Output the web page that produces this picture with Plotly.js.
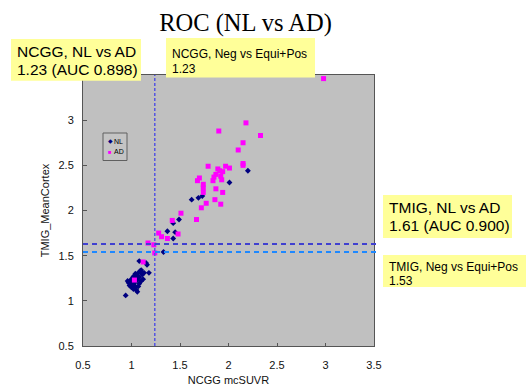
<!DOCTYPE html>
<html><head><meta charset="utf-8">
<script src="https://cdn.plot.ly/plotly-3.0.1.min.js"></script>
<style>html,body{margin:0;padding:0;background:#fff}#chart{width:526px;height:389px}</style>
</head><body><div id="chart"></div>
<script>
// ---- data ----
const nlX = [2.20,2.01,1.62,1.69,1.73,1.49,1.43,1.37,1.45,1.43,1.33,
  0.94,1.06,1.08,1.16,1.15,1.18,1.10,1.09,1.07,1.04,1.02,1.01,0.99,0.97,0.98,1.00,1.02,1.05,1.07,1.10,1.12,1.08,1.06,1.03,1.01,1.11,1.13,1.08,1.04,1.02,1.06,1.10,0.96,1.00,1.04];
const nlY = [2.44,2.31,2.12,2.14,2.16,1.90,1.86,1.77,1.76,1.69,1.54,
  1.06,1.10,1.44,1.40,1.42,1.31,1.34,1.33,1.31,1.30,1.27,1.25,1.23,1.20,1.17,1.15,1.13,1.12,1.16,1.22,1.24,1.26,1.23,1.20,1.18,1.29,1.31,1.19,1.16,1.22,1.28,1.32,1.22,1.20,1.25];
const adX = [2.98,2.18,1.90,2.33,2.15,2.10,2.15,2.15,2.01,1.97,1.79,1.89,1.91,1.94,1.87,1.85,1.92,1.84,1.93,1.70,1.68,1.74,1.74,1.87,1.74,1.94,1.86,1.77,1.92,1.72,1.67,1.51,1.42,1.48,1.28,1.31,1.37,1.17,1.23,1.24,1.12,1.03];
const adY = [3.46,2.97,2.88,2.83,2.75,2.67,2.52,2.50,2.47,2.49,2.49,2.46,2.44,2.43,2.40,2.37,2.38,2.33,2.34,2.36,2.33,2.29,2.25,2.24,2.20,2.20,2.12,2.08,2.07,2.03,1.90,1.97,1.89,1.74,1.75,1.71,1.69,1.64,1.62,1.53,1.43,1.23];
const ncggCut = 1.24;
const tmigCutAD = 1.63;
const tmigCutNeg = 1.54;
const xTickVals = [0.5,1,1.5,2,2.5,3,3.5];
const xTickText = ["0.5","1","1.5","2","2.5","3","3.5"];
const yTickVals = [0.5,1,1.5,2,2.5,3];
const yTickText = ["0.5","1","1.5","2","2.5","3"];

// ---- layout helpers (pixel -> paper) ----
const PL=83, PR=374, PT=75, PB=346;
const px = p => (p-PL)/(PR-PL);
const py = p => (PB-p)/(PB-PT);
const SANS = "Liberation Sans, Arial, sans-serif";
const YEL = "#FFFF99";

function box(x0,y0,x1,y1,fill,line){
  return {type:'rect',xref:'paper',yref:'paper',x0:px(x0),x1:px(x1),y0:py(y1),y1:py(y0),
    fillcolor:fill,line:{width:line?1:0,color:line||fill},layer:'above'};
}
function txt(x,y,t,size,color){
  return {xref:'paper',yref:'paper',x:px(x),y:py(y),text:t,showarrow:false,xanchor:'left',yanchor:'middle',
    font:{family:SANS,size:size,color:color||'#000'},borderpad:0};
}

const traces = [
  {x:nlX,y:nlY,name:'NL',type:'scatter',mode:'markers',marker:{symbol:'diamond',size:4.5,color:'#000080'}},
  {x:adX,y:adY,name:'AD',type:'scatter',mode:'markers',marker:{symbol:'square',size:5,color:'#FF00FF'}}
];

const shapes = [
  {type:'line',xref:'x',yref:'paper',x0:ncggCut,x1:ncggCut,y0:0,y1:1,line:{color:'#5555E0',width:1.5,dash:'3px,2px'}},
  {type:'line',xref:'paper',yref:'y',x0:0,x1:1.01,y0:tmigCutAD,y1:tmigCutAD,line:{color:'#4040D0',width:2,dash:'5px,4px'}},
  {type:'line',xref:'paper',yref:'y',x0:0,x1:1.01,y0:tmigCutNeg,y1:tmigCutNeg,line:{color:'#1E88FF',width:2,dash:'5px,4px'}},
  box(11,39,141,80.7,YEL),
  box(166,38,315,77.5,YEL),
  box(383,195,512,238,YEL),
  box(383,255,527,287,YEL),
  box(103,133,127,160.5,'#C4C4C4','#606060')
];

const annotations = [
  txt(16,51.5,'NCGG, NL vs AD',15.5),
  txt(16,69,'1.23 (AUC 0.898)',15.5),
  txt(171,54,'NCGG, Neg vs Equi+Pos',12),
  txt(171,69.5,'1.23',12),
  txt(387.5,207.5,'TMIG, NL vs AD',15.5),
  txt(387.5,225,'1.61 (AUC 0.900)',15.5),
  txt(387.5,266.5,'TMIG, Neg vs Equi+Pos',12),
  txt(387.5,280.5,'1.53',12),
  txt(106.5,140.7,'◆',6,'#000080'),
  txt(106.5,151.5,'■',6,'#FF00FF'),
  txt(112.5,141,'NL',7),
  txt(112.5,151.7,'AD',7)
];

const axisCommon = {range:[0.5,3.5],showgrid:false,zeroline:false,
  showline:true,linecolor:'#555',linewidth:1,mirror:true,ticks:'inside',ticklen:3,tickcolor:'#555',
  tickfont:{family:SANS,size:11,color:'#111'}};

const layout = {
  width:526,height:389,
  margin:{l:PL,r:526-PR,t:PT,b:389-PB},
  paper_bgcolor:'#fff',plot_bgcolor:'#C0C0C0',
  showlegend:false,
  title:{text:'ROC (NL vs AD)',font:{family:'Liberation Serif, Times New Roman, serif',size:24.5,color:'#000'},
    xref:'container',yref:'container',x:245.5/526,y:1-22/389,xanchor:'center',yanchor:'middle'},
  xaxis:Object.assign({},axisCommon,{tickvals:xTickVals,ticktext:xTickText,ticklabelstandoff:9,
    title:{text:'NCGG mcSUVR',font:{family:SANS,size:11,color:'#111'},standoff:6}}),
  yaxis:Object.assign({},axisCommon,{tickvals:yTickVals,ticktext:yTickText,ticklabelstandoff:6,ticklen:4,
    title:{text:'TMIG_MeanCortex',font:{family:SANS,size:11,color:'#111'},standoff:6}}),
  shapes:shapes,
  annotations:annotations
};

Plotly.newPlot('chart',traces,layout,{displayModeBar:false,staticPlot:true});
</script></body></html>
